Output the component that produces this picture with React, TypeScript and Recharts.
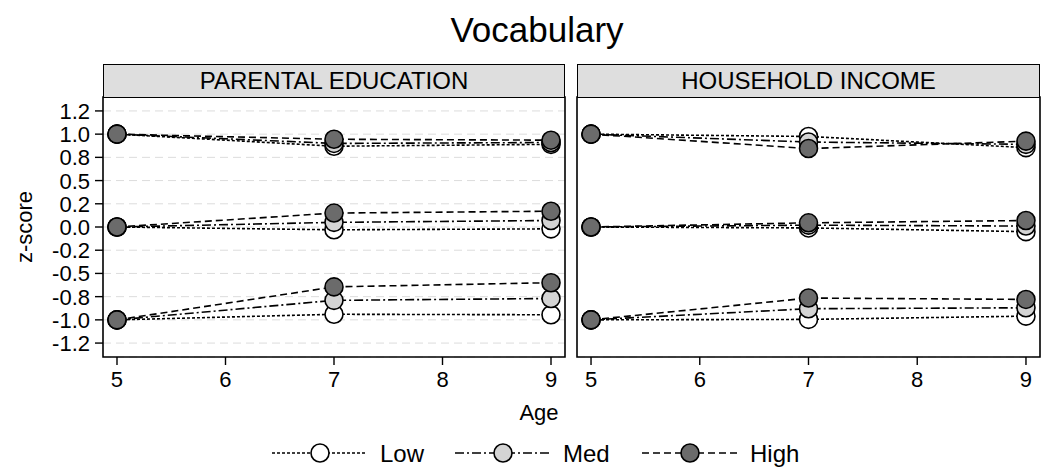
import { LineChart, Line, XAxis, YAxis, CartesianGrid, ReferenceArea } from 'recharts'

const ages = [5, 7, 9]
const xTicks = [5, 6, 7, 8, 9]
const yTicks = [-1.25, -1, -0.75, -0.5, -0.25, 0, 0.25, 0.5, 0.75, 1, 1.25]
const yTickLabels = ['-1.2', '-1.0', '-0.8', '-0.5', '-0.2', '0.0', '0.2', '0.5', '0.8', '1.0', '1.2']
const levels = ['Low', 'Med', 'High']
const groups = ['top', 'mid', 'bot']

// parental education
const eduTopLow = [1.0, 0.87, 0.89]
const eduTopMed = [1.0, 0.9, 0.91]
const eduTopHigh = [1.0, 0.945, 0.935]
const eduMidLow = [0, -0.03, -0.02]
const eduMidMed = [0, 0.05, 0.07]
const eduMidHigh = [0, 0.15, 0.17]
const eduBotLow = [-1.0, -0.94, -0.945]
const eduBotMed = [-1.0, -0.79, -0.77]
const eduBotHigh = [-1.0, -0.645, -0.6]

// household income
const incTopLow = [1.0, 0.975, 0.855]
const incTopMed = [1.0, 0.915, 0.89]
const incTopHigh = [1.0, 0.845, 0.925]
const incMidLow = [0, -0.01, -0.05]
const incMidMed = [0, 0.02, 0.01]
const incMidHigh = [0, 0.045, 0.07]
const incBotLow = [-1.0, -0.995, -0.96]
const incBotMed = [-1.0, -0.88, -0.87]
const incBotHigh = [-1.0, -0.765, -0.78]

const FONT = '"Liberation Sans", Arial, Helvetica, sans-serif'
const X_DOMAIN = [4.871, 9.129]
const Y_DOMAIN = [-1.4, 1.4]

const levelFill: Record<string, string> = { Low: '#ffffff', Med: '#d4d4d4', High: '#6b6b6b' }
const levelDash: Record<string, string> = { Low: '3 2', Med: '9 3 2 3', High: '7 4' }

function buildRows(series: Record<string, number[]>) {
  return ages.map((age, i) => {
    const row: Record<string, number> = { age }
    Object.entries(series).forEach(([k, v]) => {
      row[k] = v[i]
    })
    return row
  })
}

const eduRows = buildRows({
  topLow: eduTopLow, topMed: eduTopMed, topHigh: eduTopHigh,
  midLow: eduMidLow, midMed: eduMidMed, midHigh: eduMidHigh,
  botLow: eduBotLow, botMed: eduBotMed, botHigh: eduBotHigh,
})

const incRows = buildRows({
  topLow: incTopLow, topMed: incTopMed, topHigh: incTopHigh,
  midLow: incMidLow, midMed: incMidMed, midHigh: incMidHigh,
  botLow: incBotLow, botMed: incBotMed, botHigh: incBotHigh,
})

function XTick({ x, y, payload }: any) {
  return (
    <text x={x} y={y} dy={16} textAnchor="middle" fontSize={22} fill="#000" fontFamily={FONT}>
      {payload.value}
    </text>
  )
}

function YTick({ x, y, payload }: any) {
  return (
    <text x={x} y={y} dy={8} textAnchor="end" fontSize={22} fill="#000" fontFamily={FONT}>
      {yTickLabels[yTicks.indexOf(payload.value)]}
    </text>
  )
}

interface PanelProps {
  rows: Record<string, number>[]
  title: string
  left: number
  width: number
  plotLeft: number
  plotRight: number
  showY: boolean
}

function Panel({ rows, title, left, width, plotLeft, plotRight, showY }: PanelProps) {
  const yWidth = showY ? 98 : 0
  const margin = { top: 97, right: width - plotRight, bottom: 13, left: plotLeft - yWidth }
  return (
    <>
      <div style={{ position: 'absolute', left, top: 0 }}>
        <LineChart width={width} height={400} data={rows} margin={margin}>
          <CartesianGrid vertical={false} stroke="#dcdcdc" strokeDasharray="8 5" strokeWidth={1} />
          <XAxis
            dataKey="age"
            type="number"
            domain={X_DOMAIN}
            ticks={xTicks}
            interval={0}
            allowDataOverflow
            height={30}
            axisLine={false}
            tickSize={8}
            tickMargin={6}
            tickLine={{ stroke: '#000', strokeWidth: 1.4 }}
            tick={<XTick />}
          />
          <YAxis
            type="number"
            domain={Y_DOMAIN}
            ticks={yTicks}
            interval={0}
            allowDataOverflow
            width={yWidth}
            axisLine={false}
            tickSize={showY ? 8 : 0}
            tickMargin={5}
            tickLine={showY ? { stroke: '#000', strokeWidth: 1.4 } : false}
            tick={showY ? <YTick /> : false}
          />
          <ReferenceArea
            x1={X_DOMAIN[0]}
            x2={X_DOMAIN[1]}
            y1={Y_DOMAIN[0]}
            y2={Y_DOMAIN[1]}
            fill="none"
            stroke="#000"
            strokeWidth={1.6}
          />
          {groups.map(g =>
            levels.map(lvl => (
              <Line
                key={g + lvl}
                dataKey={g + lvl}
                stroke="#000"
                strokeWidth={1.6}
                strokeDasharray={levelDash[lvl]}
                dot={{ r: 9, fill: levelFill[lvl], stroke: '#000', strokeWidth: 1.6, strokeDasharray: '' }}
                activeDot={false}
                isAnimationActive={false}
              />
            ))
          )}
        </LineChart>
      </div>
      <div
        style={{
          position: 'absolute',
          left: left + plotLeft,
          top: 64,
          width: plotRight - plotLeft,
          height: 34,
          boxSizing: 'border-box',
          border: '1.5px solid #000',
          background: '#dedede',
          textAlign: 'center',
          fontSize: 24,
          lineHeight: '31px',
          color: '#000',
        }}
      >
        {title}
      </div>
    </>
  )
}

function LegendRow() {
  const items = [
    { x1: 272, cx: 320, x2: 367, tx: 380 },
    { x1: 455, cx: 503, x2: 550, tx: 563 },
    { x1: 642, cx: 690, x2: 737, tx: 750 },
  ]
  return (
    <svg width={1043} height={40} style={{ position: 'absolute', left: 0, top: 433 }}>
      {levels.map((lvl, i) => {
        const it = items[i]
        return (
          <g key={lvl}>
            <line x1={it.x1} x2={it.x2} y1={20} y2={20} stroke="#000" strokeWidth={1.5} strokeDasharray={levelDash[lvl]} />
            <circle cx={it.cx} cy={20} r={9} fill={levelFill[lvl]} stroke="#000" strokeWidth={1.6} />
            <text x={it.tx} y={29} fontSize={24} fill="#000">{lvl}</text>
          </g>
        )
      })}
    </svg>
  )
}

export default function App() {
  return (
    <div
      style={{
        position: 'absolute',
        left: 0,
        top: 0,
        width: 1043,
        height: 470,
        background: '#fff',
        fontFamily: FONT,
        overflow: 'hidden',
      }}
    >
      <div style={{ position: 'absolute', left: 437, top: 12, width: 200, textAlign: 'center', fontSize: 35, lineHeight: '35px' }}>
        Vocabulary
      </div>
      <Panel rows={eduRows} title="PARENTAL EDUCATION" left={0} width={575} plotLeft={103} plotRight={565} showY />
      <Panel rows={incRows} title="HOUSEHOLD INCOME" left={570} width={473} plotLeft={7} plotRight={470} showY={false} />
      <div style={{ position: 'absolute', left: 489, top: 402, width: 100, textAlign: 'center', fontSize: 22, lineHeight: '22px' }}>
        Age
      </div>
      <div
        style={{
          position: 'absolute',
          left: -25,
          top: 216,
          width: 100,
          height: 22,
          textAlign: 'center',
          fontSize: 22,
          lineHeight: '22px',
          transform: 'rotate(-90deg)',
        }}
      >
        z-score
      </div>
      <LegendRow />
    </div>
  )
}
